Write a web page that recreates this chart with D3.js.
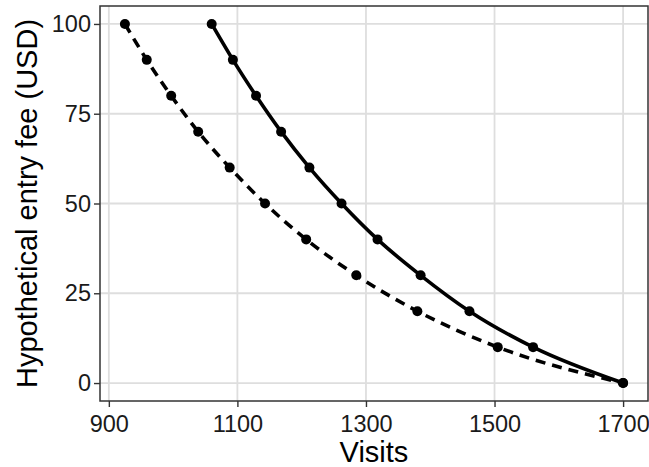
<!DOCTYPE html>
<html>
<head>
<meta charset="utf-8">
<script src="https://cdn.jsdelivr.net/npm/d3@7"></script>
<style>
  body { margin: 0; background: #fff; }
  svg { display: block; font-family: "Liberation Sans", Arial, sans-serif; }
</style>
</head>
<body>
<svg width="649" height="467"></svg>
<script>
// fee levels (y) and the visits (x)
var fees = [100, 90, 80, 70, 60, 50, 40, 30, 20, 10, 0];
var visitsSolid = [1060, 1093, 1129, 1168, 1212, 1262, 1318, 1385, 1461, 1560, 1700];
var visitsDashed = [925, 959, 997, 1039, 1088, 1143, 1207, 1285, 1380, 1505, 1700];
var xTicks = [900, 1100, 1300, 1500, 1700];
var yTicks = [0, 25, 50, 75, 100];

var svg = d3.select("svg");
var pLeft = 100, pRight = 648, pTop = 6, pBottom = 401;

// ggplot style 5% expansion
var allX = visitsSolid.concat(visitsDashed);
var xMin = d3.min(allX), xMax = d3.max(allX);
var xPad = (xMax - xMin) * 0.05;
var yPad = (d3.max(fees) - d3.min(fees)) * 0.05;

var x = d3.scaleLinear().domain([xMin - xPad, xMax + xPad]).range([pLeft, pRight]);
var y = d3.scaleLinear().domain([d3.min(fees) - yPad, d3.max(fees) + yPad]).range([pBottom, pTop]);

// grid
var grid = svg.append("g");
grid.selectAll(".gx").data(xTicks).enter().append("line")
    .attr("x1", function(d) { return x(d); }).attr("x2", function(d) { return x(d); })
    .attr("y1", pTop).attr("y2", pBottom)
    .attr("stroke", "#dedede").attr("stroke-width", 1.8);
grid.selectAll(".gy").data(yTicks).enter().append("line")
    .attr("y1", function(d) { return y(d); }).attr("y2", function(d) { return y(d); })
    .attr("x1", pLeft).attr("x2", pRight)
    .attr("stroke", "#dedede").attr("stroke-width", 1.8);

// axes
var xAxis = svg.append("g")
    .attr("transform", "translate(0," + pBottom + ")")
    .call(d3.axisBottom(x).tickValues(xTicks).tickFormat(d3.format("d")).tickSize(6).tickPadding(8));
var yAxis = svg.append("g")
    .attr("transform", "translate(" + pLeft + ",0)")
    .call(d3.axisLeft(y).tickValues(yTicks).tickFormat(d3.format("d")).tickSize(6).tickPadding(3));

[xAxis, yAxis].forEach(function(a) {
  a.select(".domain").remove();
  a.selectAll("line").attr("stroke", "#333").attr("stroke-width", 1.4);
  a.selectAll("text").attr("fill", "#1a1a1a").style("font-size", "23.5px")
    .style("font-family", "Liberation Sans, Arial, sans-serif");
});

// lines
function series(xs) {
  return fees.map(function(f, i) { return { v: xs[i], f: f }; });
}
var line = d3.line()
    .x(function(d) { return x(d.v); })
    .y(function(d) { return y(d.f); })
    .curve(d3.curveMonotoneX);

var dashed = series(visitsDashed);
var solid = series(visitsSolid);

svg.append("path").datum(dashed)
    .attr("d", line).attr("fill", "none")
    .attr("stroke", "#000").attr("stroke-width", 3.6)
    .attr("stroke-dasharray", "10,7");
svg.append("path").datum(solid)
    .attr("d", line).attr("fill", "none")
    .attr("stroke", "#000").attr("stroke-width", 3.6);

svg.selectAll(".pd").data(dashed).enter().append("circle")
    .attr("cx", function(d) { return x(d.v); })
    .attr("cy", function(d) { return y(d.f); })
    .attr("r", 5).attr("fill", "#000");
svg.selectAll(".ps").data(solid).enter().append("circle")
    .attr("cx", function(d) { return x(d.v); })
    .attr("cy", function(d) { return y(d.f); })
    .attr("r", 5).attr("fill", "#000");

// panel border
svg.append("rect")
    .attr("x", pLeft).attr("y", pTop)
    .attr("width", pRight - pLeft).attr("height", pBottom - pTop)
    .attr("fill", "none").attr("stroke", "#333").attr("stroke-width", 1.5);

// titles
svg.append("text")
    .attr("x", (pLeft + pRight) / 2).attr("y", 462)
    .attr("text-anchor", "middle")
    .style("font-size", "29px").attr("fill", "#000")
    .text("Visits");
svg.append("text")
    .attr("transform", "translate(37," + (pTop + pBottom) / 2 + ") rotate(-90)")
    .attr("text-anchor", "middle")
    .style("font-size", "29px").attr("fill", "#000")
    .text("Hypothetical entry fee (USD)");
</script>
</body>
</html>
